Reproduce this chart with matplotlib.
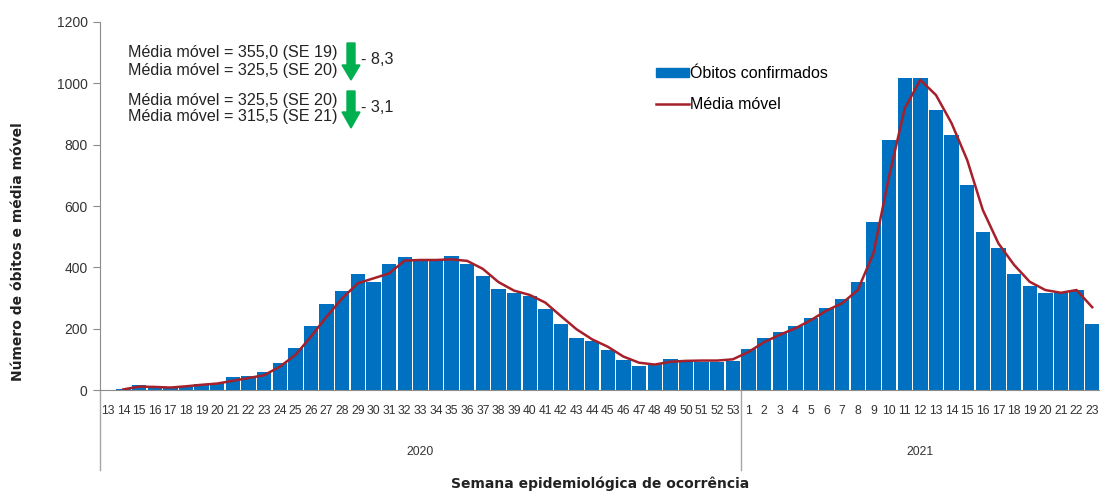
import matplotlib
matplotlib.use("Agg")
import matplotlib.pyplot as plt
import matplotlib.transforms as mtransforms
from matplotlib.patches import Patch, Polygon
from matplotlib.lines import Line2D
import numpy as np

# semanas epidemiologicas
weeks_2020 = list(range(13, 54))
weeks_2021 = list(range(1, 24))

# obitos confirmados por semana
deaths_2020 = [1, 4, 16, 9, 9, 14, 20, 22, 41, 47, 58, 87, 138, 209, 279, 323, 377, 353,
               410, 434, 424, 424, 437, 410, 373, 328, 315, 306, 263, 215, 168, 161, 131,
               98, 78, 85, 101, 90, 90, 90, 95]
deaths_2021 = [135, 168, 188, 209, 236, 266, 296, 353, 548, 815, 1017, 1017, 913, 831,
               668, 514, 464, 377, 340, 317, 317, 326, 215]

# media movel
mm_2020 = [np.nan, 2, 11, 10, 8, 12, 17, 21, 30, 39, 48, 76, 114, 174, 239, 299, 348, 364,
           380, 422, 424, 424, 426, 421, 395, 352, 324, 310, 285, 241, 198, 165, 141,
           109, 89, 83, 92, 95, 96, 96, 100]
mm_2021 = [124, 156, 180, 201, 228, 259, 283, 326, 446, 696, 918, 1011, 962, 870,
           750, 587, 478, 408, 353, 326, 317, 326, 270]

years = ["2020", "2021"]
notes = ["Média móvel = 355,0 (SE 19)", "Média móvel = 325,5 (SE 20)",
         "Média móvel = 325,5 (SE 20)", "Média móvel = 315,5 (SE 21)"]
diffs = ["- 8,3", "- 3,1"]

plt.rcParams["font.family"] = ["Liberation Sans", "DejaVu Sans"]

labels = [str(w) for w in weeks_2020 + weeks_2021]
deaths = deaths_2020 + deaths_2021
mm = mm_2020 + mm_2021
x = np.arange(len(labels))
n20 = len(weeks_2020)

W, H = 1100, 493
fig = plt.figure(figsize=(W / 100, H / 100), dpi=100)
ax = fig.add_axes([100 / W, (H - 390) / H, 1000 / W, 368 / H])

blue = "#0070C0"
red = "#A5202A"
green = "#00B050"
gray = "#8C8C8C"

ax.bar(x, deaths, width=0.92, color=blue, zorder=2)
ax.plot(x, mm, color=red, linewidth=1.8, zorder=3)

ax.set_xlim(-0.5, len(x) - 0.5)
ax.set_ylim(0, 1200)
ax.set_yticks(np.arange(0, 1201, 200))
ax.tick_params(axis="y", labelsize=10, colors=gray, labelcolor="#333333", length=5, pad=4)
ax.set_xticks(x)
ax.set_xticklabels(labels, fontsize=8.7, color="#333333")
ax.tick_params(axis="x", length=0, pad=11)

for s in ["top", "right"]:
    ax.spines[s].set_visible(False)
ax.spines["left"].set_color(gray)
ax.spines["bottom"].set_color(gray)

# separadores dos anos
trans = mtransforms.blended_transform_factory(ax.transData, ax.transAxes)
for xs in [-0.5, n20 - 0.5]:
    ax.plot([xs, xs], [0, -0.218], color="#A6A6A6", linewidth=1, transform=trans, clip_on=False)
ax.text((n20 - 1) / 2, -0.168, years[0], transform=trans, ha="center", va="center",
        fontsize=8.7, color="#333333")
ax.text((n20 + len(x) - 1) / 2, -0.168, years[1], transform=trans, ha="center", va="center",
        fontsize=8.7, color="#333333")

# titulos dos eixos
fig.text(600 / W, 1 - 484 / H, "Semana epidemiológica de ocorrência", ha="center", va="center",
         fontsize=10, fontweight="bold", family="DejaVu Sans", color="#222222")
fig.text(18 / W, 1 - 252 / H, "Número de óbitos e média móvel", ha="center", va="center",
         rotation=90, fontsize=10, fontweight="bold", family="DejaVu Sans", color="#222222")

# legenda
handles = [Patch(color=blue), Line2D([0], [0], color=red, linewidth=1.8)]
ax.legend(handles, ["Óbitos confirmados", "Média móvel"], loc="upper left",
          bbox_to_anchor=(0.556, 0.88), frameon=False, fontsize=11.5, handlelength=2.05,
          handleheight=0.45, handletextpad=0.05, labelspacing=1.0, borderpad=0,
          borderaxespad=0)

# anotacoes de variacao
for t, yp in zip(notes, [53, 71, 100, 117]):
    ax.text(28 / 1000, (390 - yp) / 368, t, transform=ax.transAxes, ha="left", va="center",
            fontsize=11.6, color="#222222")
for d, yp in zip(diffs, [59, 108]):
    ax.text(261 / 1000, (390 - yp) / 368, d, transform=ax.transAxes, ha="left", va="center",
            fontsize=11.6, color="#222222")


def down_arrow(top, head, tip):
    pts = [(347, top), (355, top), (355, head), (360, head), (351, tip), (342, head), (347, head)]
    pts = [(px / W, 1 - py / H) for px, py in pts]
    fig.patches.append(Polygon(pts, closed=True, color=green, transform=fig.transFigure))


down_arrow(43, 65, 80)
down_arrow(91, 112, 128)

fig.savefig("out.png", dpi=100)
